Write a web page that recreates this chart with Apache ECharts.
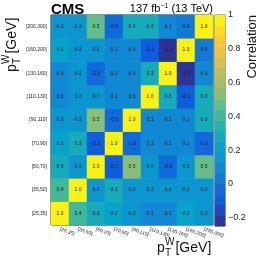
<!DOCTYPE html>
<html><head><meta charset="utf-8">
<script src="https://cdn.jsdelivr.net/npm/echarts@6/dist/echarts.min.js"></script>
<style>html,body{margin:0;padding:0;background:#fff}#c{width:266px;height:263px}</style>
</head><body><div id="c"></div>
<script>
// bins of pT^W (same for x and y)
const bins = ['[25,35]','[35,50]','[50,70]','[70,90]','[90,110]','[110,130]','[130,160]','[160,200]','[200,300]'];
// correlation rows, from bottom row [25,35] to top row [200,300]; columns left to right
const row_25_35   = [1.00, 0.38, 0.27, 0.22, 0.18, 0.12, 0.08, 0.24, 0.18];
const row_35_50   = [0.38, 1.00, 0.18, 0.27, 0.18, 0.18, 0.18, 0.17, 0.18];
const row_50_70   = [0.27, 0.18, 1.00,-0.08, 0.50, 0.18,-0.03, 0.18, 0.48];
const row_70_90   = [0.22, 0.27,-0.08, 1.00,-0.02, 0.12, 0.12, 0.12,-0.02];
const row_90_110  = [0.18, 0.18, 0.50,-0.02, 1.00, 0.12, 0.12, 0.12, 0.28];
const row_110_130 = [0.10, 0.18, 0.18, 0.10, 0.12, 1.00, 0.28,-0.08, 0.28];
const row_130_160 = [0.08, 0.18,-0.03, 0.12, 0.12, 0.28, 1.00,-0.27, 0.12];
const row_160_200 = [0.24, 0.17, 0.18, 0.12, 0.12,-0.08,-0.27, 1.00, 0.02];
const row_200_300 = [0.18, 0.18, 0.48,-0.02, 0.28, 0.28, 0.12, 0.02, 1.00];
const rows = [row_25_35,row_35_50,row_50_70,row_70_90,row_90_110,row_110_130,row_130_160,row_160_200,row_200_300];
const colorbarTicks = [-0.2, 0, 0.2, 0.4, 0.6, 0.8, 1];
const zMin = -0.25, zMax = 1, nLevels = 20;

// ROOT kBird palette
const stops = [0,0.125,0.25,0.375,0.5,0.625,0.75,0.875,1];
const R = [0.2082,0.0592,0.0780,0.0232,0.1802,0.5301,0.8186,0.9956,0.9764];
const G = [0.1664,0.3599,0.5041,0.6419,0.7178,0.7492,0.7328,0.7862,0.9832];
const B = [0.5293,0.8684,0.8385,0.7914,0.6425,0.4662,0.3499,0.1968,0.0539];
function bird(t){
  t = Math.max(0, Math.min(1, t));
  let i = 0; while (i < stops.length-2 && t > stops[i+1]) i++;
  const f = (t - stops[i])/(stops[i+1]-stops[i]);
  const c = a => Math.round(255*(a[i] + f*(a[i+1]-a[i])));
  return 'rgb(' + c(R) + ',' + c(G) + ',' + c(B) + ')';
}
const step = (zMax - zMin)/nLevels;
const pieces = [], cbData = [], cbCats = [];
for (let k = 0; k < nLevels; k++) {
  const lo = zMin + k*step, hi = lo + step;
  pieces.push({gte: k===0 ? -10 : lo, lt: k===nLevels-1 ? 10 : hi, color: bird((k+0.5)/nLevels)});
  cbCats.push(String(k));
  cbData.push([0, k, lo + step/2]);
}
const data = [];
rows.forEach((r, yi) => r.forEach((v, xi) => data.push([xi, yi, v])));

const fmtCell = v => v[2].toFixed(1);
const fmtCb = v => { const s = String(+(+v).toFixed(1)); return s.replace('-', '\u2212'); };

function title(x, y, rot, fs) {
  const sub = Math.round(fs*0.7);
  const st = (t, f) => ({text: t, font: f + 'px "Liberation Sans", Arial, sans-serif', fill: '#111', verticalAlign: 'middle', align: 'left'});
  return {type: 'group', x: x, y: y, rotation: rot, children: [
    {type: 'text', x: 0, y: 0, style: st('p', fs)},
    {type: 'text', x: fs*0.58, y: -fs*0.42, style: st('W', sub)},
    {type: 'text', x: fs*0.58, y: fs*0.38, style: st('T', sub)},
    {type: 'text', x: fs*1.32, y: 0, style: st('[GeV]', fs)}
  ]};
}

const chart = echarts.init(document.getElementById('c'), null, {renderer: 'canvas'});
const gridL = 51, gridT = 15, gridW = 162, gridH = 210;
const tickFont = 5;
chart.setOption({
  animation: false,
  textStyle: {fontFamily: '"Liberation Sans", Arial, sans-serif'},
  grid: [
    {left: gridL, top: gridT, width: gridW, height: gridH, show: true, borderColor: '#222', borderWidth: 1, backgroundColor: 'transparent'},
    {left: 215, top: 15, width: 10, height: 211, show: true, borderColor: '#444', borderWidth: 1}
  ],
  xAxis: [
    {type: 'category', data: bins, gridIndex: 0, position: 'bottom',
     axisLine: {show: false}, axisTick: {inside: true, length: 3, lineStyle: {color: '#222'}},
     axisLabel: {rotate: -20, fontSize: tickFont, color: '#222', margin: 4, interval: 0},
     splitLine: {show: false}},
    {type: 'category', data: bins, gridIndex: 0, position: 'top',
     axisLine: {show: false}, axisTick: {inside: true, length: 3, lineStyle: {color: '#222'}},
     axisLabel: {show: false}},
    {type: 'category', data: ['c'], gridIndex: 1, show: false}
  ],
  yAxis: [
    {type: 'category', data: bins, gridIndex: 0, position: 'left',
     axisLine: {show: false}, axisTick: {inside: true, length: 3, lineStyle: {color: '#222'}},
     axisLabel: {fontSize: tickFont, color: '#222', margin: 4, interval: 0}},
    {type: 'category', data: bins, gridIndex: 0, position: 'right',
     axisLine: {show: false}, axisTick: {inside: true, length: 3, lineStyle: {color: '#222'}},
     axisLabel: {show: false}},
    {type: 'category', data: cbCats, gridIndex: 1, show: false},
    {type: 'value', gridIndex: 1, position: 'right', min: zMin, max: zMax,
     axisLine: {show: false}, splitLine: {show: false},
     axisTick: {show: true, inside: true, length: 4, customValues: colorbarTicks, lineStyle: {color: '#222'}},
     axisLabel: {show: true, customValues: colorbarTicks, formatter: fmtCb, fontSize: 9, color: '#222', margin: 3}}
  ],
  visualMap: {type: 'piecewise', show: false, dimension: 2, seriesIndex: [0, 1], pieces: pieces},
  series: [
    {type: 'heatmap', xAxisIndex: 0, yAxisIndex: 0, data: data,
     label: {show: true, formatter: p => fmtCell(p.value), fontSize: 5, color: '#1a1a1a'},
     itemStyle: {borderWidth: 0}},
    {type: 'heatmap', xAxisIndex: 2, yAxisIndex: 2, data: cbData, label: {show: false}, itemStyle: {borderWidth: 0}}
  ],
  graphic: [
    {type: 'text', x: 51, y: 2, style: {text: 'CMS', font: 'bold 15px "Liberation Sans", Arial, sans-serif', fill: '#000'}},
    {type: 'text', x: 213, y: 9, style: {
      text: '{a|137 fb}{s|\u22121}{a| (13 TeV)}', align: 'right', verticalAlign: 'middle',
      rich: {a: {fontSize: 11, fontFamily: '"Liberation Sans", Arial', color: '#111'},
             s: {fontSize: 7, fontFamily: '"Liberation Sans", Arial', color: '#111', verticalAlign: 'top', padding: [0,0,6,0]}}}},
    title(157, 248, 0, 14),
    title(12, 72, Math.PI/2, 14),
    {type: 'text', x: 252, y: 15, rotation: Math.PI/2, style: {text: 'Correlation', font: '13px "Liberation Sans", Arial, sans-serif', fill: '#111', align: 'right', verticalAlign: 'middle'}}
  ]
});
</script></body></html>
